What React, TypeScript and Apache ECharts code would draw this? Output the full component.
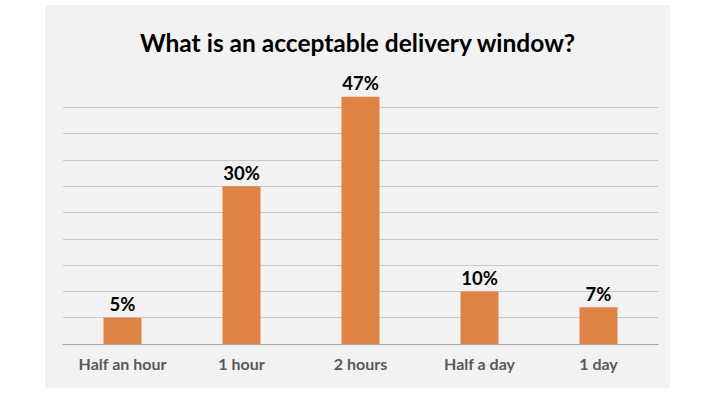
import React, { useEffect, useRef } from "react";
import * as echarts from "echarts";

const categories = ["Half an hour", "1 hour", "2 hours", "Half a day", "1 day"];
const values = [5, 30, 47, 10, 7];
const titleText = "What is an acceptable delivery window?";

export default function App() {
  const ref = useRef<HTMLDivElement>(null);
  useEffect(() => {
    if (!ref.current) return;
    const chart = echarts.init(ref.current, null, { renderer: "svg" });
    const gridColors = ["#c9c9c9", "#c9c9c9", "#c9c9c9", "#c9c9c9", "#c9c9c9", "#c9c9c9", "#c9c9c9", "#c9c9c9", "#c9c9c9", "#c9c9c9", "rgba(0,0,0,0)"];
    chart.setOption({
      animation: false,
      backgroundColor: "#ffffff",
      graphic: [
        {
          type: "rect",
          z: -10,
          silent: true,
          shape: { x: 45, y: 5, width: 625, height: 383 },
          style: { fill: "#f2f2f2" },
        },
      ],
      title: {
        text: titleText,
        left: "center",
        top: 25,
        textStyle: { fontFamily: "Lato", fontWeight: "bold", fontSize: 24.5, color: "#000000" },
      },
      grid: { left: 63, right: 57, top: 81, bottom: 66 },
      xAxis: {
        type: "category",
        data: categories,
        axisTick: { show: false },
        axisLine: { lineStyle: { color: "#a6a6a6", width: 1 } },
        axisLabel: {
          fontFamily: "Lato",
          fontWeight: "bold",
          fontSize: 16,
          color: "#595959",
          margin: 11,
        },
      },
      yAxis: {
        type: "value",
        min: 0,
        max: 50,
        interval: 5,
        axisLabel: { show: false },
        axisLine: { show: false },
        axisTick: { show: false },
        splitLine: { lineStyle: { color: gridColors, width: 1 } },
      },
      series: [
        {
          type: "bar",
          data: values,
          barWidth: 38,
          itemStyle: { color: "#e08445" },
          label: {
            show: true,
            position: "top",
            distance: 4,
            formatter: "{c}%",
            fontFamily: "Lato",
            fontWeight: "bold",
            fontSize: 18.5,
            color: "#000000",
          },
        },
      ],
    });
    return () => chart.dispose();
  }, []);
  return <div ref={ref} style={{ position: "fixed", left: 0, top: 0, width: 715, height: 410 }} />;
}
